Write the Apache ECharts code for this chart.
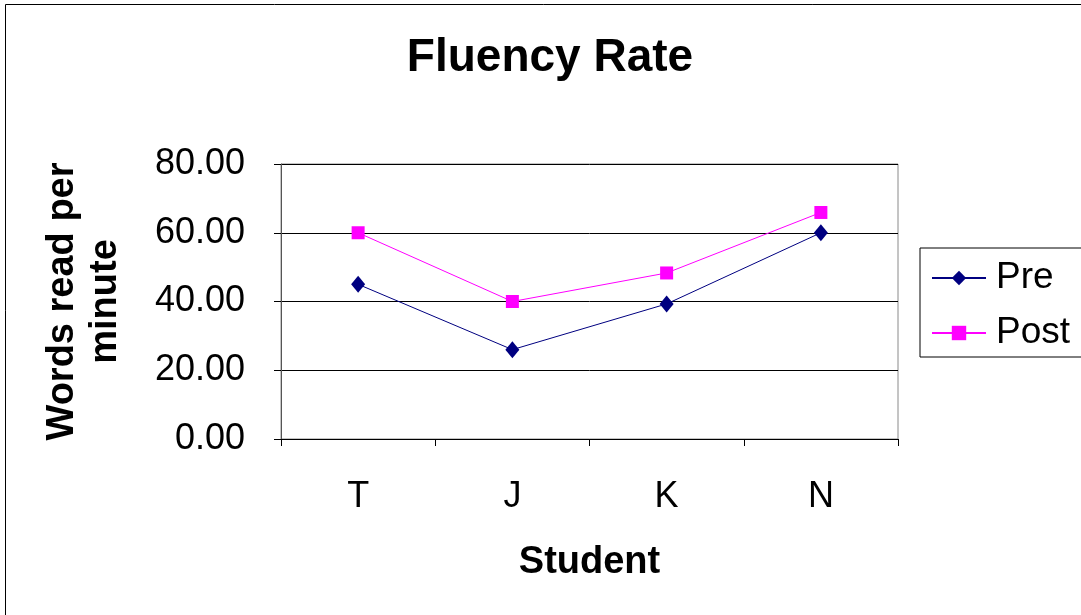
<!DOCTYPE html>
<html>
<head>
<meta charset="utf-8">
<script src="https://cdn.jsdelivr.net/npm/echarts@6/dist/echarts.min.js"></script>
<style>
html,body{margin:0;padding:0;background:#fff;}
#chart{width:1081px;height:615px;}
</style>
</head>
<body>
<div id="chart"></div>
<script>
var categories = ['T', 'J', 'K', 'N'];
var preValues = [45, 26, 39.3, 60];
var postValues = [60, 40, 48.3, 65.9];
var yTicks = [0, 20, 40, 60, 80];
var seriesNames = ['Pre', 'Post'];

var FONT = '"Liberation Sans", Arial, sans-serif';
var chart = echarts.init(document.getElementById('chart'));
chart.setOption({
  animation: false,
  backgroundColor: '#ffffff',
  title: {
    text: 'Fluency Rate',
    left: 545,
    textAlign: 'center',
    top: 30,
    textStyle: { fontFamily: FONT, fontSize: 46, fontWeight: 'bold', color: '#000' }
  },
  graphic: [{
    type: 'rect',
    shape: { x: 5.5, y: 4.5, width: 1200, height: 800 },
    style: { fill: 'none', stroke: '#000', lineWidth: 1 },
    z: -1
  }],
  legend: {
    left: 920,
    top: 248,
    orient: 'vertical',
    data: seriesNames,
    backgroundColor: '#fff',
    borderColor: '#000',
    borderWidth: 1,
    padding: [10, 30, 4, 11],
    itemWidth: 54,
    itemHeight: 18,
    itemGap: 15,
    textStyle: { fontFamily: FONT, fontSize: 37, color: '#000', lineHeight: 40, padding: [0, 0, 0, 5] }
  },
  grid: {
    left: 281, top: 164, width: 617, height: 275,
    show: true, borderColor: '#8a8a8a', borderWidth: 1, backgroundColor: 'transparent'
  },
  xAxis: {
    type: 'category',
    data: categories,
    boundaryGap: true,
    axisLine: { lineStyle: { color: '#000', width: 1 } },
    axisTick: { show: true, length: 7, alignWithLabel: false, lineStyle: { color: '#000' } },
    axisLabel: { fontFamily: FONT, fontSize: 36, color: '#000', margin: 40 },
    name: 'Student',
    nameLocation: 'middle',
    nameGap: 105,
    nameTextStyle: { fontFamily: FONT, fontSize: 38, fontWeight: 'bold', color: '#000' }
  },
  yAxis: {
    type: 'value',
    min: yTicks[0],
    max: yTicks[yTicks.length - 1],
    interval: yTicks[1] - yTicks[0],
    axisLine: { show: true, lineStyle: { color: '#555', width: 1 } },
    axisTick: { show: true, length: 7, lineStyle: { color: '#000' } },
    axisLabel: {
      fontFamily: FONT, fontSize: 36, color: '#000', margin: 36,
      formatter: function (v) { return v.toFixed(2); }
    },
    splitLine: { show: true, lineStyle: { color: '#000', width: 1 } },
    name: 'Words read per\nminute',
    nameLocation: 'middle',
    nameGap: 154,
    nameTextStyle: { fontFamily: FONT, fontSize: 38, fontWeight: 'bold', color: '#000', lineHeight: 43, align: 'center' }
  },
  series: [{
    name: seriesNames[0],
    type: 'line',
    data: preValues,
    symbol: 'diamond',
    symbolSize: [14, 17],
    itemStyle: { color: '#000080' },
    lineStyle: { color: '#000080', width: 1 },
    z: 3
  }, {
    name: seriesNames[1],
    type: 'line',
    data: postValues,
    symbol: 'rect',
    symbolSize: 13,
    itemStyle: { color: '#ff00ff' },
    lineStyle: { color: '#ff00ff', width: 1 },
    z: 2
  }]
});
</script>
</body>
</html>
